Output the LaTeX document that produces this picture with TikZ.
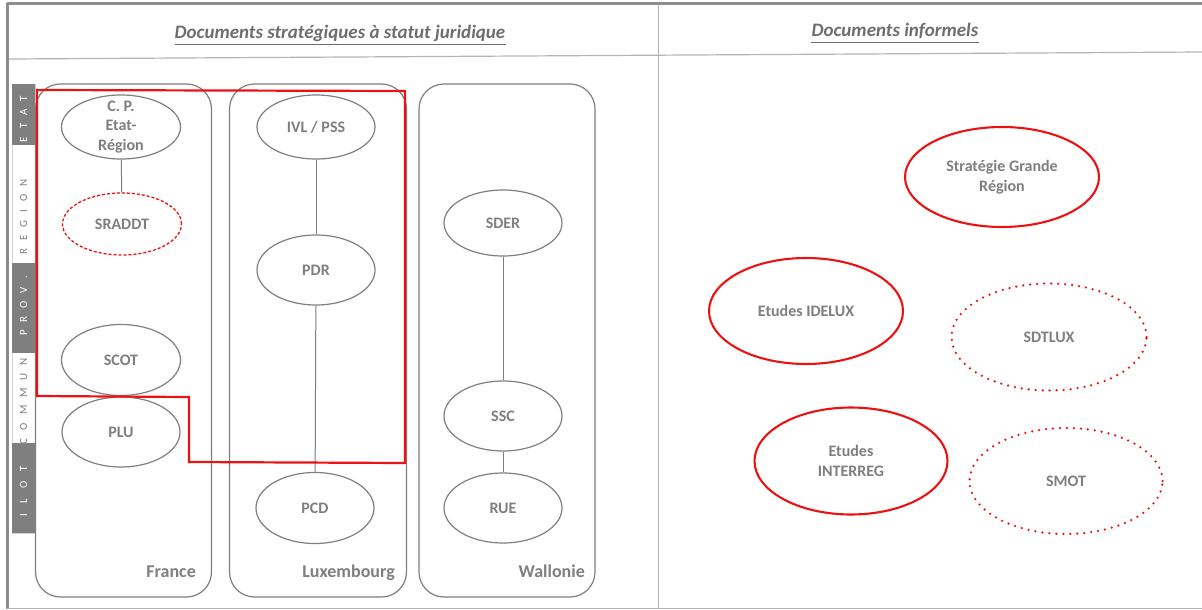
\documentclass[tikz,border=0pt]{standalone}
\usepackage{fontspec}
\setmainfont{Carlito}
\usetikzlibrary{shapes.geometric}
\definecolor{tgray}{HTML}{7F7F7F}
\definecolor{hgray}{HTML}{6E6E6E}
\definecolor{lgray}{HTML}{7F7F7F}
\definecolor{fgray}{HTML}{8C8C8C}
\definecolor{sgray}{HTML}{B4B4B4}
\definecolor{myred}{HTML}{EE1111}
\begin{document}
\begin{tikzpicture}[x=1pt,y=-1pt,
  lbl/.style={font=\fontsize{16}{19.5}\selectfont\bfseries, text=tgray, align=center, inner sep=0pt},
  hdr/.style={font=\fontsize{19}{20}\selectfont\bfseries\itshape, text=hgray, inner sep=0pt, anchor=base},
  cname/.style={font=\fontsize{18}{20}\selectfont\bfseries, text=tgray, inner sep=0pt, anchor=base east},
  bandw/.style={font=\fontsize{11}{12}\selectfont, text=white, rotate=90, inner sep=0pt},
  bandg/.style={font=\fontsize{11}{12}\selectfont, text=tgray, rotate=90, inner sep=0pt},
  docg/.style={ellipse, draw=lgray, line width=1.2pt, inner sep=0pt, lbl},
  docrd/.style={ellipse, draw=myred, line width=1.3pt, dash pattern=on 3pt off 2pt, inner sep=0pt, lbl},
  docr/.style={ellipse, draw=myred, line width=2.1pt, inner sep=0pt, lbl},
  docrdot/.style={ellipse, draw=myred, line width=2.5pt, dash pattern=on 0pt off 7pt, line cap=round, inner sep=0pt, lbl},
  panel/.style={draw=lgray, line width=1.2pt, rounded corners=25pt, inner sep=0pt},
  link/.style={draw=lgray, line width=1pt},
]
\useasboundingbox[fill=white] (0,0) rectangle (1202,610);

% frame
\draw[fgray, line width=3pt] (7,4) -- (1202,4);
\draw[fgray, line width=3pt] (7.5,3) -- (7.5,609);
\draw[sgray, line width=1.5pt] (7,608.5) -- (1202,608.5);
\draw[sgray, line width=1.2pt] (9,59) -- (1202,52);
\draw[sgray, line width=1pt] (658,4) -- (658,609);

% headers
\node[hdr] (h1) at (340,39) {Documents stratégiques à statut juridique};
\draw[hgray, line width=1pt] ([yshift=-6pt]h1.base west) -- ([yshift=-6pt]h1.base east);
\node[hdr] (h2) at (895,37) {Documents informels};
\draw[hgray, line width=1pt] ([yshift=-6pt]h2.base west) -- ([yshift=-6pt]h2.base east);

% left band
\draw[sgray!60, line width=0.6pt] (12,84) rectangle (35,533);
\fill[tgray] (12,84) rectangle (35,145);
\fill[tgray] (12,263) rectangle (35,353);
\fill[tgray] (12,443) rectangle (35,533);
\node[bandw] (bEtat) at (23.5,119) {E\kern8pt T\kern8pt A\kern8pt T};
\node[bandg] (bReg) at (23.5,217) {R\kern8pt E\kern8pt G\kern8pt I\kern8pt O\kern8pt N};
\node[bandw] (bProv) at (23.5,306) {P\kern8pt R\kern8pt O\kern8pt V\kern8pt .};
\node[bandg] (bCom) at (23.5,401) {C\kern8pt O\kern8pt M\kern8pt M\kern8pt U\kern8pt N};
\node[bandw] (bIlot) at (23.5,491) {I\kern10pt L\kern10pt O\kern10pt T};

% panels
\node[panel, minimum width=176pt, minimum height=513pt] (france) at (123.5,340.5) {};
\node[panel, minimum width=177pt, minimum height=513pt] (lux) at (318,340.5) {};
\node[panel, minimum width=176pt, minimum height=513pt] (wal) at (507,340.5) {};
\node[cname] (lfr) at (196,577) {France};
\node[cname] (llu) at (395,577) {Luxembourg};
\node[cname] (lwa) at (585,577) {Wallonie};

% France
\node[docg, minimum width=119pt, minimum height=64pt] (cp) at (121,127) {};
\node[lbl] (cpt) at (121,127) {C. P.\\Etat-\\Région};
\node[docrd, minimum width=119pt, minimum height=62pt] (sraddt) at (122,224) {SRADDT};
\node[docg, minimum width=119pt, minimum height=71pt] (scot) at (121,360) {SCOT};
\node[docg, minimum width=118pt, minimum height=70pt] (plu) at (121,432) {PLU};
\draw[link] (cp) -- (sraddt);

% Luxembourg
\node[docg, minimum width=118pt, minimum height=64pt] (ivl) at (316,127) {IVL / PSS};
\node[docg, minimum width=118pt, minimum height=70pt] (pdr) at (316,270) {PDR};
\node[docg, minimum width=118pt, minimum height=71pt] (pcd) at (315,508) {PCD};
\draw[link] (ivl) -- (pdr);
\draw[link] (pdr) -- (pcd);

% Wallonie
\node[docg, minimum width=118pt, minimum height=66pt] (sder) at (503,223) {SDER};
\node[docg, minimum width=118pt, minimum height=70pt] (ssc) at (503,416) {SSC};
\node[docg, minimum width=118pt, minimum height=70pt] (rue) at (503,508) {RUE};
\draw[link] (sder) -- (ssc);
\draw[link] (ssc) -- (rue);

% informal documents
\node[docr, minimum width=194pt, minimum height=100pt] (sgr) at (1002,177) {Stratégie Grande\\Région};
\node[docr, minimum width=194pt, minimum height=106pt] (idelux) at (806,311) {Etudes IDELUX};
\node[docrdot, minimum width=195pt, minimum height=107pt] (sdtlux) at (1049,337) {SDTLUX};
\node[docr, minimum width=193pt, minimum height=107pt] (interreg) at (851,461) {Etudes\\INTERREG};
\node[docrdot, minimum width=193pt, minimum height=106pt] (smot) at (1066,481) {SMOT};

% red perimeter
\draw[myred, line width=2.2pt, line join=miter] (37,90) -- (405,91) -- (405,463) -- (189,462) -- (189,397) -- (37,396) -- cycle;
\end{tikzpicture}
\end{document}
